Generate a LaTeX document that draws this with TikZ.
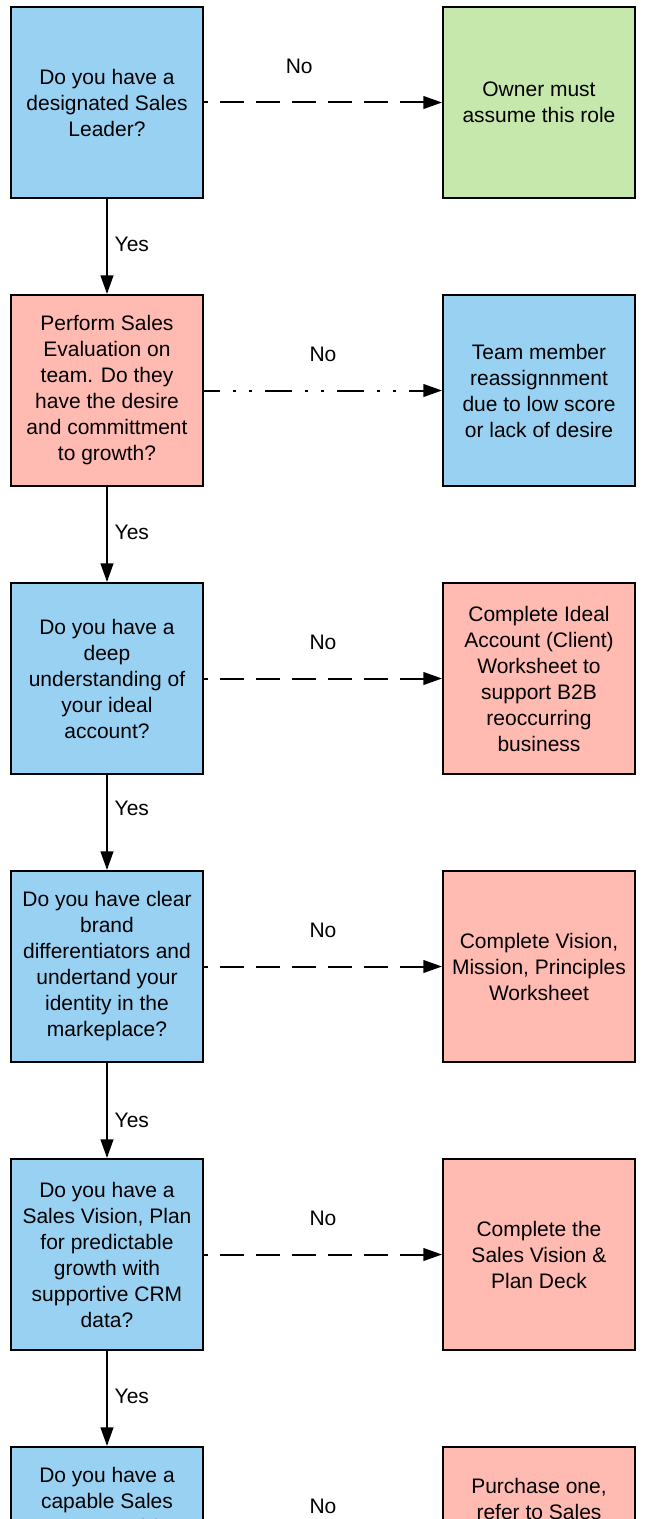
\documentclass[tikz,border=0pt]{standalone}
\usepackage{fontspec}
\setmainfont{Liberation Sans}
\usetikzlibrary{arrows.meta,positioning}
\definecolor{QBlue}{HTML}{99D1F3}
\definecolor{QRose}{HTML}{FFBAB2}
\definecolor{QLeaf}{HTML}{C7E8AC}
\tikzset{
    block/.style = {draw, rectangle, line width=1.5pt, align=center,
        minimum width=144pt,
        minimum height=143.25pt, inner sep=0pt,
        font=\fontsize{15.75}{19.5}\selectfont},
    blue/.style = {block, fill=QBlue},
    rose/.style = {block, fill=QRose},
    leaf/.style = {block, fill=QLeaf},
    boxtext/.style = {align=center, inner sep=0pt, font=\fontsize{15.75}{19.5}\selectfont},
    arrow/.style = {draw, line width=1.5pt, -{Triangle[length=14pt,width=9.5pt]}},
    noarrow/.style = {arrow, dash pattern=on 18pt off 9pt, dash phase=15pt},
    dotarrow/.style = {arrow, dash pattern=on 20pt off 10pt on 2pt off 10pt on 2pt off 10pt, dash phase=8pt},
    lbl/.style = {inner sep=0pt, font=\fontsize{15.75}{19.5}\selectfont},
    yes/.style = {lbl, anchor=west, xshift=5pt},
    no/.style = {lbl, yshift=27pt}
}

\begin{document}
\begin{tikzpicture}[x=0.75pt,y=-0.75pt]
        \useasboundingbox (0,0) rectangle (645,1519);
        \clip (0,0) rectangle (645,1519);
        % questions
        \node [blue] (q1) at (107,102.5) {Do you have a\\designated Sales\\Leader?};
        \node [rose] (q2) at (107,390.5) {Perform Sales\\Evaluation on\\team. Do they\\have the desire\\and committment\\to growth?};
        \node [blue] (q3) at (107,678.5) {Do you have a\\deep\\understanding of\\your ideal\\account?};
        \node [blue] (q4) at (107,966.5) {Do you have clear\\brand\\differentiators and\\undertand your\\identity in the\\markeplace?};
        \node [blue] (q5) at (107,1254.5) {Do you have a\\Sales Vision, Plan\\for predictable\\growth with\\supportive CRM\\data?};
        \node [blue] (q6) at (107,1542.5) {};
        \node [boxtext, anchor=north] (q6text) at (107,1466.5) {Do you have a\\capable Sales\\CRM and f};
        % actions
        \node [leaf] (a1) at (539,102.5) {Owner must\\assume this role};
        \node [blue] (a2) at (539,390.5) {Team member\\reassignnment\\due to low score\\or lack of desire};
        \node [rose] (a3) at (539,678.5) {Complete Ideal\\Account (Client)\\Worksheet to\\support B2B\\reoccurring\\business};
        \node [rose] (a4) at (539,966.5) {Complete Vision,\\Mission, Principles\\Worksheet};
        \node [rose] (a5) at (539,1254.5) {Complete the\\Sales Vision \&\\Plan Deck};
        \node [rose] (a6) at (539,1542.5) {};
        \node [boxtext, anchor=north] (a6text) at (539,1477.5) {Purchase one,\\refer to Sales};
        % yes
        \draw [arrow] (q1) -- node [yes, pos=0.48] {Yes} (q2);
        \draw [arrow] (q2) -- node [yes, pos=0.48] {Yes} (q3);
        \draw [arrow] (q3) -- node [yes, pos=0.35] {Yes} (q4);
        \draw [arrow] (q4) -- node [yes, pos=0.6] {Yes} (q5);
        \draw [arrow] (q5) -- node [yes, pos=0.48] {Yes} (q6);
        % no
        \draw [noarrow] (q1) -- node [no, pos=0.4] {No} (a1);
        \draw [dotarrow] (q2) -- node [no] {No} (a2);
        \draw [noarrow] (q3) -- node [no] {No} (a3);
        \draw [noarrow] (q4) -- node [no] {No} (a4);
        \draw [noarrow] (q5) -- node [no] {No} (a5);
        \draw [noarrow] (q6) -- node [no] {No} (a6);
\end{tikzpicture}
\end{document}
